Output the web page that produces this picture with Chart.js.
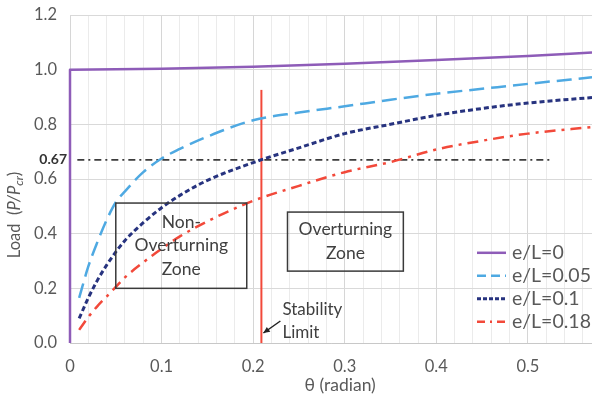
<!DOCTYPE html>
<html>
<head>
<meta charset="utf-8">
<script src="https://cdn.jsdelivr.net/npm/chart.js@4.4.1/dist/chart.umd.min.js"></script>
<style>
  html, body { margin: 0; padding: 0; background: #fff; }
  #wrap { width: 592px; height: 398px; }
</style>
</head>
<body>
<div id="wrap"><canvas id="load-chart" width="592" height="398"></canvas></div>
<script>
// rotation angle (radian) sampled along the curves
const theta = [0.01, 0.02, 0.03, 0.04, 0.05, 0.06, 0.08, 0.1, 0.12, 0.15, 0.2, 0.25, 0.3, 0.35, 0.4, 0.45, 0.5, 0.57];

// load ratio P/Pcr
const load_e005 = [0.165, 0.28, 0.37, 0.45, 0.515, 0.555, 0.625, 0.675, 0.71, 0.755, 0.815, 0.843, 0.866, 0.89, 0.912, 0.93, 0.948, 0.972];
const load_e010 = [0.09, 0.165, 0.23, 0.285, 0.333, 0.375, 0.44, 0.495, 0.54, 0.595, 0.66, 0.714, 0.766, 0.80, 0.833, 0.858, 0.878, 0.898];
const load_e0185 = [0.048, 0.095, 0.135, 0.17, 0.205, 0.24, 0.295, 0.345, 0.39, 0.445, 0.52, 0.575, 0.625, 0.662, 0.708, 0.74, 0.766, 0.79];

// perfect column (e/L = 0)
const theta_e000 = [0, 0, 0.1, 0.2, 0.3, 0.4, 0.5, 0.57];
const load_e000 = [0, 1.0, 1.003, 1.011, 1.022, 1.035, 1.05, 1.063];

// reference lines
const ref_067_theta = [0.008, 0.526];
const ref_067_load = [0.67, 0.67];
const stability_theta = [0.209, 0.209];
const stability_load = [0, 0.926];

const x_ticks = [0, 0.1, 0.2, 0.3, 0.4, 0.5];
const y_ticks = [0, 0.2, 0.4, 0.6, 0.8, 1.0, 1.2];

const series_labels = ["e/L=0", "e/L=0.05", "e/L=0.1", "e/L=0.185"];

// annotation placement (data units)
const zone_boxes = [
    {x0: 0.05, x1: 0.193, y0: 0.2, y1: 0.512, lines: ["Non-", "Overturning", "Zone"]},
    {x0: 0.2375, x1: 0.364, y0: 0.263, y1: 0.479, lines: ["Overturning", "Zone"]}
];

const pts = (xs, ys) => xs.map((v, i) => ({x: v, y: ys[i]}));

const FONT = "Lato, 'Open Sans', sans-serif";
const GREY_TEXT = '#595959';

const annotate = {
    id: 'annotate',
    afterDatasetsDraw(chart) {
        const {ctx, chartArea, scales: {x, y}} = chart;
        ctx.save();

        // zone boxes + labels
        ctx.strokeStyle = '#3a3a3a';
        ctx.lineWidth = 1.5;
        ctx.setLineDash([]);
        zone_boxes.forEach(b => {
            const l = x.getPixelForValue(b.x0), r = x.getPixelForValue(b.x1);
            const t = y.getPixelForValue(b.y1), bt = y.getPixelForValue(b.y0);
            ctx.strokeRect(l, t, r - l, bt - t);
            ctx.fillStyle = '#404040';
            ctx.font = `17.5px ${FONT}`;
            ctx.textAlign = 'center';
            ctx.textBaseline = 'middle';
            const cx = (l + r) / 2, cy = (t + bt) / 2;
            const gap = 23.5;
            b.lines.forEach((s, i) => {
                ctx.fillText(s, cx, cy + (i - (b.lines.length - 1) / 2) * gap);
            });
        });

        // stability limit note + arrow
        const sx = x.getPixelForValue(stability_theta[0]);
        const base = y.getPixelForValue(0);
        ctx.fillStyle = '#404040';
        ctx.font = `17px ${FONT}`;
        ctx.textAlign = 'left';
        ctx.textBaseline = 'middle';
        ctx.fillText('Stability', sx + 21, base - 33);
        ctx.fillText('Limit', sx + 21, base - 10);
        ctx.strokeStyle = '#222';
        ctx.lineWidth = 1.5;
        const ax0 = sx + 19, ay0 = base - 22, ax1 = sx + 2, ay1 = base - 10;
        ctx.beginPath(); ctx.moveTo(ax0, ay0); ctx.lineTo(ax1, ay1); ctx.stroke();
        const ang = Math.atan2(ay1 - ay0, ax1 - ax0);
        ctx.fillStyle = '#222';
        ctx.beginPath();
        ctx.moveTo(ax1, ay1);
        ctx.lineTo(ax1 - 7 * Math.cos(ang - 0.45), ay1 - 7 * Math.sin(ang - 0.45));
        ctx.lineTo(ax1 - 7 * Math.cos(ang + 0.45), ay1 - 7 * Math.sin(ang + 0.45));
        ctx.closePath(); ctx.fill();

        // 0.67 label left of the axis
        ctx.fillStyle = '#333';
        ctx.font = `bold 14px ${FONT}`;
        ctx.textAlign = 'right';
        ctx.fillText('0.67', chartArea.left - 3, y.getPixelForValue(0.67));

        // legend (runs off the right edge like the source)
        const lx = chartArea.right - 115;
        const ly = y.getPixelForValue(0.33);
        ctx.font = `19.5px ${FONT}`;
        ctx.textAlign = 'left';
        chart.data.datasets.slice(0, 4).forEach((ds, i) => {
            const yy = ly + i * 23;
            ctx.strokeStyle = ds.borderColor;
            ctx.lineWidth = ds.borderWidth;
            ctx.setLineDash(ds.legendDash || []);
            ctx.beginPath(); ctx.moveTo(lx, yy); ctx.lineTo(lx + 29, yy); ctx.stroke();
            ctx.fillStyle = GREY_TEXT;
            ctx.fillText(series_labels[i], lx + 35, yy);
        });
        ctx.setLineDash([]);

        // axis titles
        ctx.fillStyle = GREY_TEXT;
        ctx.font = `17.5px ${FONT}`;
        ctx.textAlign = 'center';
        ctx.fillText('\u03b8 (radian)', x.getPixelForValue(0.295), 385);

        // y title: Load  (P/Pcr), rotated
        ctx.translate(15, 215);
        ctx.rotate(-Math.PI / 2);
        const parts = [
            {t: 'Load  (', f: `16.5px ${FONT}`, dy: 0},
            {t: 'P/P', f: `italic 16.5px ${FONT}`, dy: 0},
            {t: 'cr', f: `italic 12px ${FONT}`, dy: 4},
            {t: ')', f: `16.5px ${FONT}`, dy: 0}
        ];
        let w = 0;
        parts.forEach(p => { ctx.font = p.f; w += ctx.measureText(p.t).width; });
        let px = -w / 2;
        ctx.textAlign = 'left';
        parts.forEach(p => {
            ctx.font = p.f;
            ctx.fillText(p.t, px, p.dy);
            px += ctx.measureText(p.t).width;
        });

        ctx.restore();
    }
};

const config = {
    type: 'line',
    data: {
        datasets: [
            {label: series_labels[0], data: pts(theta_e000, load_e000), borderColor: '#8e5cb8', borderWidth: 2.5, tension: 0, clip: false},
            {label: series_labels[1], data: pts(theta, load_e005), borderColor: '#4ea9e2', borderWidth: 2.5, borderDash: [15, 7], legendDash: [9, 5]},
            {label: series_labels[2], data: pts(theta, load_e010), borderColor: '#27337f', borderWidth: 3, borderDash: [5, 3], legendDash: [4, 2]},
            {label: series_labels[3], data: pts(theta, load_e0185), borderColor: '#f2493a', borderWidth: 2.5, borderDash: [11, 6, 3, 6], legendDash: [8, 5, 2, 5]},
            {label: '0.67', data: pts(ref_067_theta, ref_067_load), borderColor: '#3c3c3c', borderWidth: 1.6, borderDash: [7, 4, 2, 4], tension: 0},
            {label: 'Stability Limit', data: pts(stability_theta, stability_load), borderColor: '#f2493a', borderWidth: 2, tension: 0}
        ]
    },
    options: {
        responsive: false,
        animation: false,
        layout: {padding: {top: 15, left: 0, right: 0, bottom: 0}},
        elements: {
            point: {radius: 0},
            line: {cubicInterpolationMode: 'monotone', fill: false}
        },
        plugins: {
            legend: {display: false},
            tooltip: {enabled: false}
        },
        scales: {
            x: {
                type: 'linear',
                min: 0,
                max: 0.57,
                afterFit: (s) => { s.height = 55; s.paddingLeft = 0; s.paddingRight = 0; },
                border: {color: '#c8c8c8'},
                grid: {
                    drawTicks: false,
                    color: (c) => {
                        const v = Math.round(c.tick.value * 100);
                        return v % 10 === 0 ? '#d6d6d6' : '#ebebeb';
                    }
                },
                ticks: {
                    stepSize: 0.02,
                    includeBounds: false,
                    autoSkip: false,
                    maxRotation: 0,
                    padding: 14,
                    color: GREY_TEXT,
                    font: {family: FONT, size: 16.5},
                    callback: (v) => {
                        const r = Math.round(v * 100) / 100;
                        return x_ticks.some(t => Math.abs(t - r) < 1e-6) ? (r === 0 ? '0' : r.toFixed(1)) : '';
                    }
                }
            },
            y: {
                min: 0,
                max: 1.2,
                afterFit: (s) => { s.width = 70; s.paddingTop = 0; s.paddingBottom = 0; },
                border: {display: false},
                grid: {drawTicks: false, color: '#d9d9d9'},
                ticks: {
                    stepSize: 0.2,
                    padding: 13,
                    color: GREY_TEXT,
                    font: {family: FONT, size: 16.5},
                    callback: (v) => y_ticks.some(t => Math.abs(t - v) < 1e-6) ? Number(v).toFixed(1) : ''
                }
            }
        }
    },
    plugins: [annotate]
};

const ctx = document.getElementById('load-chart').getContext('2d');
const load_chart = new Chart(ctx, config);
</script>
</body>
</html>
